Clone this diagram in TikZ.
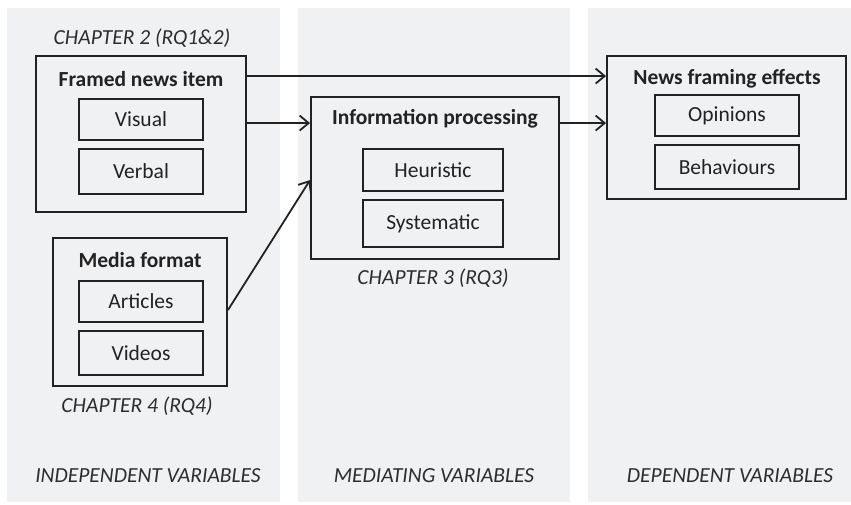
\documentclass[tikz,border=0pt]{standalone}
\usepackage{fontspec}
\setmainfont{Carlito}
\usetikzlibrary{arrows.meta}
\definecolor{colbg}{RGB}{240,241,243}
\definecolor{ink}{RGB}{34,34,34}
\definecolor{capink}{RGB}{45,45,45}
\tikzset{
  box/.style={draw=ink, line width=1.9pt, inner sep=0pt, anchor=center},
  lbl/.style={text=ink, inner sep=0pt, anchor=center, font=\fontsize{21.5}{24}\selectfont},
  ttl/.style={lbl, font=\fontsize{21.5}{24}\selectfont\bfseries},
  chap/.style={lbl, text=capink, font=\fontsize{21.5}{24}\selectfont\itshape},
  arr/.style={draw=ink, line width=1.8pt, -{Straight Barb[length=9pt,width=15pt,line width=1.8pt]}}
}
\begin{document}
\begin{tikzpicture}[x=1pt,y=-1pt]
\useasboundingbox (0,0) rectangle (851,504);
% columns
\fill[colbg] (7,8) rectangle (280,502);
\fill[colbg] (298,8) rectangle (570,502);
\fill[colbg] (588,8) rectangle (851,502);
% Framed news item
\node[box, minimum width=210pt, minimum height=156pt] (fni) at (141,134) {};
\node[ttl] (fnit) at (141,79) {Framed news item};
\node[box, minimum width=124pt, minimum height=41pt] (vis) at (141,119.5) {};
\node[lbl] at (vis.center) {Visual};
\node[box, minimum width=124pt, minimum height=45pt] (verb) at (141,171.5) {};
\node[lbl] at (verb.center) {Verbal};
\node[chap] (ch2) at (142,38) {CHAPTER 2 (RQ1\&2)};
% Media format
\node[box, minimum width=174pt, minimum height=148pt] (mf) at (140,312) {};
\node[ttl] (mft) at (140,260) {Media format};
\node[box, minimum width=124pt, minimum height=41pt] (art) at (141,301.5) {};
\node[lbl] at (art.center) {Articles};
\node[box, minimum width=124pt, minimum height=44pt] (vid) at (141,353) {};
\node[lbl] at (vid.center) {Videos};
\node[chap] (ch4) at (137,406) {CHAPTER 4 (RQ4)};
% Information processing
\node[box, minimum width=248pt, minimum height=162pt] (ip) at (435,178) {};
\node[ttl] (ipt) at (435,119) {Information processing};
\node[box, minimum width=140pt, minimum height=42pt] (heu) at (433,170) {};
\node[lbl] at (heu.center) {Heuristic};
\node[box, minimum width=140pt, minimum height=47pt] (sys) at (433,223.5) {};
\node[lbl] at (sys.center) {Systematic};
\node[chap] (ch3) at (433,278) {CHAPTER 3 (RQ3)};
% News framing effects
\node[box, minimum width=239pt, minimum height=143pt] (nfe) at (726.5,127.5) {};
\node[ttl] (nfet) at (727,79) {News framing effects};
\node[box, minimum width=144pt, minimum height=41pt] (opi) at (727,115.5) {};
\node[lbl] at (opi.center) {Opinions};
\node[box, minimum width=144pt, minimum height=44pt] (beh) at (727,167) {};
\node[lbl] at (beh.center) {Behaviours};
% bottom labels
\node[chap] (iv) at (148,476) {INDEPENDENT VARIABLES};
\node[chap] (mv) at (434,476) {MEDIATING VARIABLES};
\node[chap] (dv) at (730,476) {DEPENDENT VARIABLES};
% arrows
\draw[arr] ([yshift=-21pt]fni.north east) -- ([yshift=-21pt]nfe.north west);
\draw[arr] ([yshift=-68pt]fni.north east) -- ([yshift=-27pt]ip.north west);
\draw[arr] ([yshift=-27pt]ip.north east) -- ([yshift=-68pt]nfe.north west);
\draw[arr] ([yshift=-73pt]mf.north east) -- ([yshift=-84pt]ip.north west);
\end{tikzpicture}
\end{document}
